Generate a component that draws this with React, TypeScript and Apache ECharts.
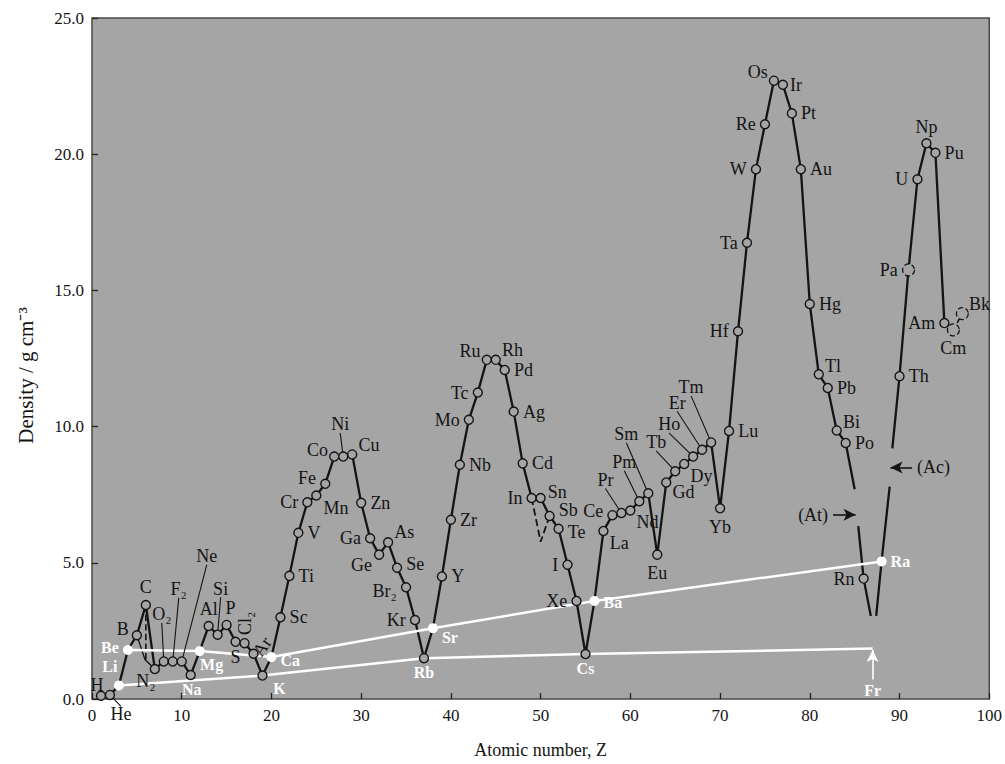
import { useEffect, useRef } from 'react';
import * as echarts from 'echarts';

// ---------- data ----------
const SYMBOLS = ['H','He','Li','Be','B','C','N','O','F','Ne','Na','Mg','Al','Si','P','S','Cl','Ar','K','Ca','Sc','Ti','V','Cr','Mn','Fe','Co','Ni','Cu','Zn','Ga','Ge','As','Se','Br','Kr','Rb','Sr','Y','Zr','Nb','Mo','Tc','Ru','Rh','Pd','Ag','Cd','In','Sn','Sb','Te','I','Xe','Cs','Ba','La','Ce','Pr','Nd','Pm','Sm','Eu','Gd','Tb','Dy','Ho','Er','Tm','Yb','Lu','Hf','Ta','W','Re','Os','Ir','Pt','Au','Hg','Tl','Pb','Bi','Po','At','Rn','Fr','Ra','Ac','Th','Pa','U','Np','Pu','Am','Cm','Bk'];

const DENSITY: (number | null)[] = [
  0.12, 0.15,
  0.5, 1.8, 2.34, 3.45, 1.1, 1.38, 1.38, 1.38,
  0.88, 1.76, 2.68, 2.36, 2.72, 2.1, 2.05, 1.66,
  0.86, 1.54, 3.0, 4.52, 6.1, 7.22, 7.47, 7.9, 8.9, 8.9, 8.98, 7.2, 5.9, 5.3, 5.75, 4.82, 4.1, 2.9,
  1.5, 2.6, 4.5, 6.58, 8.6, 10.25, 11.25, 12.45, 12.45, 12.08, 10.55, 8.65, 7.38, 7.38, 6.72, 6.25, 4.93, 3.6,
  1.65, 3.6, 6.17, 6.75, 6.83, 6.92, 7.26, 7.55, 5.3, 7.95, 8.36, 8.63, 8.9, 9.15, 9.42, 7.0, 9.84, 13.5, 16.75, 19.45, 21.1, 22.7, 22.55, 21.5, 19.45, 14.5, 11.92, 11.42, 9.86, 9.4, null, 4.42,
  null, 5.05, null, 11.85, 15.75, 19.08, 20.4, 20.05, 13.8, 13.55, 14.15,
];

const DISPLAY: Record<string, string> = { N: 'N₂', O: 'O₂', F: 'F₂', Cl: 'Cl₂', Br: 'Br₂' };

const ALKALINE_EARTH = ['Be', 'Mg', 'Ca', 'Sr', 'Ba', 'Ra'];
const ALKALI_LINE = ['Li', 'K', 'Rb', 'Cs'];
const FR_DENSITY = 1.85;
const WHITE_DOTS = ['Li', 'Be', 'Mg', 'Ca', 'Sr', 'Ba', 'Ra'];
const WHITE_LABELS = ['Li', 'Be', 'Na', 'Mg', 'K', 'Ca', 'Rb', 'Sr', 'Cs', 'Ba', 'Ra'];
const ESTIMATED = ['Pa', 'Cm', 'Bk'];

// alternative forms
const CARBON_LOW = 1.45;   // lower end of carbon dashed drop
const SN_GREY = 5.77;      // grey tin

// line stubs around the gaps (Z, density)
const AT_GAP_BEFORE = [85.0, 7.7];
const AT_GAP_AFTER = [85.4, 6.35];
const FR_GAP_BEFORE = [86.8, 3.05];
const FR_GAP_AFTER = [87.4, 3.05];
const AC_GAP_BEFORE = [88.9, 7.8];
const AC_GAP_AFTER = [89.2, 9.2];

// annotation arrows
const AT_ARROW = [[82.6, 6.76], [85.1, 6.76]];
const AC_ARROW = [[91.4, 8.5], [89.0, 8.5]];
const FR_ARROW = [[87, 0.72], [87, 1.8]];

const X_TICKS = [0, 100, 10];
const Y_TICKS = [0, 25, 5];

// ---------- styles ----------
const FONT = 'Liberation Serif';
const BG = '#a5a5a5';
const INK = '#141414';
const LABEL_SIZE = 18;
const WHITE_SIZE = 16;
const R = 4.5;
const LABEL_DIST = 4;

const PLACE: Record<string, [string, number, number]> = {
  H: ['top', -4, 7], Li: ['top', -9, -2], Be: ['left', 0, -2], B: ['left', 1, -6], C: ['top', 0, 0],
  N: ['bottom', -9, -6], Na: ['bottom', 1, -3], Mg: ['bottom', 12, -4], Al: ['top', 0, 1], P: ['top', 4, 1],
  S: ['bottom', 0, -3], K: ['bottom', 17, -4], Ca: ['right', 0, 3],
  Sc: ['right', 0, 0], Ti: ['right', 0, 0], V: ['right', 0, 0], Cr: ['left', 0, 0], Mn: ['right', -2, 12],
  Fe: ['left', 0, -6], Co: ['left', 3, -7], Cu: ['right', -3, -9], Zn: ['right', 0, 0], Ga: ['left', 0, 0],
  Ge: ['left', 2, 10], As: ['right', -3, -10], Se: ['right', 0, -4], Br: ['left', 0, 4], Kr: ['left', 0, 0],
  Rb: ['bottom', 0, -3], Sr: ['right', 0, 9], Y: ['right', 0, 0], Zr: ['right', 0, 0], Nb: ['right', 0, 0],
  Mo: ['left', 0, 0], Tc: ['left', 0, 0], Ru: ['left', 3, -9], Rh: ['right', -3, -10], Pd: ['right', 0, 0],
  Ag: ['right', 0, 0], Cd: ['right', 0, 0], In: ['left', 0, 0], Sn: ['right', -2, -6], Sb: ['right', 0, -6],
  Te: ['right', 0, 3], I: ['left', 0, 0], Xe: ['left', 0, 0], Cs: ['bottom', 0, -3], Ba: ['right', 0, 2],
  La: ['right', -3, 12], Ce: ['left', 0, -4], Nd: ['right', -3, 12], Eu: ['bottom', 0, 0], Gd: ['right', -3, 10],
  Dy: ['right', -3, 12], Yb: ['bottom', 0, 0], Lu: ['right', 0, 0], Hf: ['left', 0, 0], Ta: ['left', 0, 0],
  W: ['left', 0, 0], Re: ['left', 0, 0], Os: ['left', 3, -9], Ir: ['right', -2, 0], Pt: ['right', 0, 0],
  Au: ['right', 0, 0], Hg: ['right', 0, 0], Tl: ['right', -3, -8], Pb: ['right', 0, 0], Bi: ['right', -3, -8],
  Po: ['right', 0, 0], Rn: ['left', 0, 0], Ra: ['right', 0, 0], Th: ['right', 0, 0], Pa: ['left', 0, 0],
  U: ['left', 0, 0], Np: ['top', 0, 2], Pu: ['right', 0, 0], Am: ['left', 0, 0], Cm: ['bottom', 0, -2],
  Bk: ['right', -4, -10],
};
const ROTATED: Record<string, [string, number, number, number]> = { Cl: ['top', 90, 1, 0], Ar: ['right', 55, -3, -3] };
const LEADERS: Record<string, [number, number]> = {
  He: [11, 37], O: [-2, -29], F: [6, -54], Ne: [25, -87], Si: [3, -28], Ni: [-3, -14],
  Pr: [-16, -15], Pm: [-15, -21], Sm: [-22, -41], Tb: [-19, -11], Ho: [-24, -14], Er: [-25, -29], Tm: [-20, -37],
};

const idx = (s: string) => SYMBOLS.indexOf(s);
const pt = (s: string): [number, number] => [idx(s) + 1, DENSITY[idx(s)] as number];

function labelFor(sym: string): any {
  const white = WHITE_LABELS.includes(sym);
  const size = white ? WHITE_SIZE : LABEL_SIZE;
  const base: any = {
    show: true,
    formatter: DISPLAY[sym] ?? sym,
    color: white ? '#ffffff' : INK,
    fontWeight: white ? 'bold' : 'normal',
    fontFamily: FONT,
    fontSize: size,
    lineHeight: size,
  };
  if (ROTATED[sym] !== undefined) {
    const [pos, rot, dx, dy] = ROTATED[sym];
    return { ...base, position: pos, rotate: rot, align: 'left', verticalAlign: 'middle', distance: 2, offset: [dx, dy] };
  }
  if (LEADERS[sym]) return { ...base, position: 'top', distance: LABEL_DIST, offset: LEADERS[sym] };
  const p = PLACE[sym] ?? ['right', 0, 0];
  return { ...base, position: p[0], offset: [p[1], p[2]], distance: LABEL_DIST };
}

const LEADER_SYMS = SYMBOLS.filter((s) => LEADERS[s]);

function buildOption(): any {
  const plotted = SYMBOLS.filter((s, i) => DENSITY[i] !== null);
  const openSyms = plotted.filter((s) => !WHITE_DOTS.includes(s) && !ESTIMATED.includes(s));

  const seg1 = SYMBOLS.slice(0, 84).map((s, i) => [i + 1, DENSITY[i]]);
  seg1.push(AT_GAP_BEFORE);
  const seg2 = [AT_GAP_AFTER, pt('Rn'), FR_GAP_BEFORE];
  const seg3 = [FR_GAP_AFTER, pt('Ra'), AC_GAP_BEFORE];
  const seg4 = [AC_GAP_AFTER, pt('Th'), pt('Pa'), pt('U'), pt('Np'), pt('Pu'), pt('Am')];
  const segDashAct = [pt('Am'), pt('Cm'), pt('Bk')];
  const segSn = [pt('In'), [idx('Sn') + 1, SN_GREY], pt('Sb')];
  const segCdrop = [pt('C'), [idx('C') + 1, CARBON_LOW]];
  const segCalt = [pt('B'), [idx('C') + 1 - 0.1, CARBON_LOW], pt('N')];

  const blackLine = (data: any[], type = 'solid', width = 2.3) => ({
    type: 'line', data, showSymbol: false, symbol: 'none', z: 2, silent: true,
    lineStyle: { color: INK, width, type },
  });

  const upper = ALKALINE_EARTH.map(pt);
  const lower = [...ALKALI_LINE.map(pt), [idx('Fr') + 1, FR_DENSITY]];

  const arrowLabel = { show: true, position: 'start', fontFamily: FONT, fontSize: LABEL_SIZE, color: INK, distance: 5 };

  return {
    animation: false,
    grid: { left: 92, top: 18, width: 906, height: 684, show: true, backgroundColor: BG, borderColor: '#4a4a4a', borderWidth: 1.5 },
    xAxis: {
      type: 'value', min: X_TICKS[0], max: X_TICKS[1], interval: X_TICKS[2],
      name: 'Atomic number, Z', nameLocation: 'middle', nameGap: 42,
      nameTextStyle: { fontFamily: FONT, fontSize: 18, color: INK },
      axisLine: { show: false },
      axisTick: { show: true, inside: true, length: 6, lineStyle: { color: '#222', width: 1.3 } },
      axisLabel: { fontFamily: FONT, fontSize: 17, color: INK, margin: 8 },
      splitLine: { show: false },
    },
    yAxis: {
      type: 'value', min: Y_TICKS[0], max: Y_TICKS[1], interval: Y_TICKS[2],
      name: 'Density / g cm⁻³', nameLocation: 'middle', nameGap: 56, nameRotate: 90,
      nameTextStyle: { fontFamily: FONT, fontSize: 21, color: INK, padding: [0, 34, 0, 0] },
      axisLine: { show: false },
      axisTick: { show: true, inside: true, length: 6, lineStyle: { color: '#222', width: 1.3 } },
      axisLabel: { fontFamily: FONT, fontSize: 17, color: INK, margin: 8, formatter: (v: number) => v.toFixed(1) },
      splitLine: { show: false },
    },
    series: [
      {
        ...blackLine(seg1),
        markLine: {
          silent: true, symbol: ['none', 'arrow'], symbolSize: [9, 12], precision: 2,
          lineStyle: { color: INK, width: 1.6, type: 'solid' },
          data: [
            [{ coord: AT_ARROW[0], label: { ...arrowLabel, formatter: '(At)' } }, { coord: AT_ARROW[1] }],
            [{ coord: AC_ARROW[0], label: { ...arrowLabel, formatter: '(Ac)' } }, { coord: AC_ARROW[1] }],
            [
              { coord: FR_ARROW[0], lineStyle: { color: '#ffffff', width: 1.6 }, label: { ...arrowLabel, formatter: 'Fr', color: '#ffffff', fontWeight: 'bold', fontSize: WHITE_SIZE, distance: 3 } },
              { coord: FR_ARROW[1] },
            ],
          ],
        },
      },
      blackLine(seg2),
      blackLine(seg3),
      blackLine(seg4),
      blackLine(segDashAct, 'dashed', 1.6),
      blackLine(segSn, 'dashed', 1.8),
      blackLine(segCdrop, 'dashed', 1.6),
      blackLine(segCalt, 'solid', 1.3),
      { type: 'line', data: upper, showSymbol: false, symbol: 'none', z: 3, silent: true, lineStyle: { color: '#ffffff', width: 2.5 } },
      { type: 'line', data: lower, showSymbol: false, symbol: 'none', z: 3, silent: true, lineStyle: { color: '#ffffff', width: 2.5 } },
      {
        type: 'scatter', z: 5, symbol: 'circle', symbolSize: R * 2, silent: true,
        itemStyle: { color: BG, borderColor: INK, borderWidth: 1.4, opacity: 1 },
        data: openSyms.map((s) => ({ value: pt(s), label: labelFor(s) })),
      },
      {
        type: 'scatter', z: 5, symbol: 'circle', symbolSize: 12, silent: true,
        itemStyle: { color: BG, borderColor: INK, borderWidth: 1.3, borderType: 'dashed', opacity: 1 },
        data: ESTIMATED.map((s) => ({ value: pt(s), label: labelFor(s) })),
      },
      {
        type: 'scatter', z: 6, symbol: 'circle', symbolSize: 10, silent: true,
        itemStyle: { color: '#ffffff', borderWidth: 0, opacity: 1 },
        data: WHITE_DOTS.map((s) => ({ value: pt(s), label: labelFor(s) })),
      },
    ],
  };
}

function leaderGraphics(chart: echarts.ECharts): any[] {
  const h = LABEL_SIZE;
  return LEADER_SYMS.map((s) => {
    const [px, py] = chart.convertToPixel({ gridIndex: 0 }, pt(s)) as number[];
    const [dx, dy] = LEADERS[s];
    const cx = px + dx;
    const cy = py - R - LABEL_DIST - h / 2 + dy;
    const ex = cx;
    const ey = cy < py ? cy + h / 2 - 1 : cy - h / 2 + 1;
    const vx = ex - px;
    const vy = ey - py;
    const L = Math.hypot(vx, vy) || 1;
    return {
      type: 'line', silent: true, z: 4,
      shape: { x1: px + (vx / L) * R, y1: py + (vy / L) * R, x2: ex, y2: ey },
      style: { stroke: INK, lineWidth: 1.1 },
    };
  });
}

export default function App() {
  const ref = useRef<HTMLDivElement>(null);
  useEffect(() => {
    const chart = echarts.init(ref.current!, null, { renderer: 'svg' });
    chart.setOption(buildOption());
    chart.setOption({ graphic: leaderGraphics(chart) });
    return () => chart.dispose();
  }, []);
  return (
    <div
      ref={ref}
      style={{ position: 'absolute', left: 0, top: 0, width: 1005, height: 764, background: '#ffffff' }}
    />
  );
}
